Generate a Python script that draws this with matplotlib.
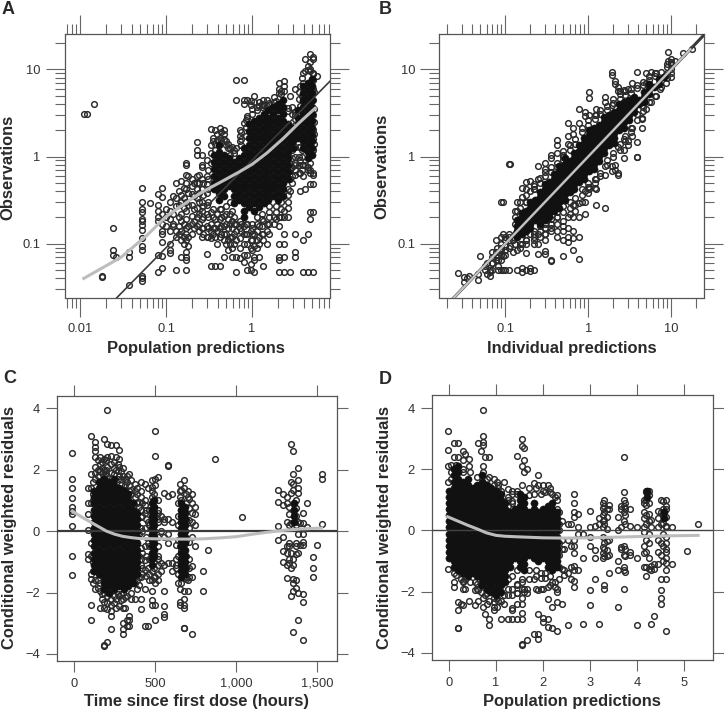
import matplotlib
matplotlib.use('Agg')
import matplotlib.pyplot as plt
from matplotlib.ticker import LogLocator, NullFormatter, FixedLocator

plt.rcParams['font.family'] = ['Liberation Sans', 'DejaVu Sans']

W, H = 724, 711
INK = '#333333'
FRAME = '#555555'

# ---- panel A: observations vs population predictions
a_ring_x = [0.011, 0.012, 0.0145, 0.018, 0.024, 0.026, 0.037, 0.053, 0.065, 0.081, 0.09, 0.11, 0.13, 0.15, 0.17, 0.2, 0.23, 0.26, 0.3, 0.33, 0.37, 0.42, 0.47, 0.52, 0.58, 0.65, 0.72, 0.8, 0.88, 0.97, 1.05, 1.2, 1.35, 1.5, 1.8, 2.05, 2.35, 2.8, 3.2, 3.6, 3.9, 4.2, 4.5, 4.8, 5.1, 5.3, 5.7]
a_ring_y = [[3.1], [3.1], [4.0], [0.043, 0.041], [0.15, 0.085, 0.075], [0.07], [0.08, 0.07, 0.034],
    [0.44, 0.3, 0.25, 0.23, 0.19, 0.18, 0.165, 0.145, 0.115, 0.095, 0.085, 0.043, 0.04, 0.037], [0.29], [0.28, 0.24, 0.2, 0.18, 0.37, 0.075, 0.047],
    [0.43, 0.34, 0.22, 0.17, 0.14, 0.13, 0.105, 0.072, 0.053], [0.3, 0.24, 0.19, 0.14, 0.1, 0.085, 0.078], [0.5, 0.33, 0.27, 0.14, 0.12, 0.05], [0.52, 0.36, 0.3, 0.22, 0.18, 0.14, 0.11, 0.07],
    [0.85, 0.8, 0.62, 0.5, 0.42, 0.3, 0.24, 0.19, 0.15, 0.13, 0.11, 0.08, 0.07, 0.065, 0.05], [0.55, 0.46, 0.37, 0.28, 0.21, 0.17, 0.13], [1.45, 1.2, 1.05, 0.6, 0.5, 0.42, 0.33, 0.26, 0.2, 0.16],
    [1.05, 0.8, 0.75, 0.55, 0.42, 0.3, 0.24, 0.19, 0.15, 0.12], [0.9, 0.6, 0.48, 0.38, 0.28, 0.22, 0.16, 0.12, 0.076], [2.05, 1.35, 1.1, 0.85, 0.23, 0.17, 0.14, 0.115, 0.055], [2.0, 1.4, 1.2, 0.19, 0.15, 0.12, 0.055],
    [2.1, 1.65, 0.25, 0.19, 0.15, 0.12, 0.055], [2.0, 1.8, 1.6, 0.21, 0.16, 0.13, 0.11, 0.07], [1.4, 1.25, 0.19, 0.15, 0.11, 0.085], [1.3, 0.24, 0.18, 0.15, 0.12, 0.09, 0.07],
    [7.6, 4.4, 1.25, 0.17, 0.14, 0.11, 0.07, 0.047], [2.0, 1.7, 1.5, 0.18, 0.15, 0.115, 0.09, 0.068], [7.6, 4.5, 4.0, 2.4, 0.16, 0.13, 0.1, 0.075, 0.062], [4.4, 2.9, 2.8, 0.17, 0.13, 0.1, 0.075, 0.05],
    [4.3, 3.9, 0.14, 0.11, 0.09, 0.058, 0.05], [4.9, 4.2, 0.13, 0.095, 0.07, 0.065, 0.047], [4.2, 3.8, 0.16, 0.12, 0.1, 0.07], [4.5, 3.9, 0.18, 0.13, 0.11, 0.055], [4.4, 3.8, 0.17, 0.14, 0.1], [4.8, 4.2, 0.2, 0.17],
    [7.0, 6.0, 5.3, 0.2, 0.16, 0.1, 0.07, 0.065, 0.047], [7.3, 6.5, 5.6, 0.24, 0.2, 0.13, 0.1, 0.07, 0.047], [5.0, 0.82, 0.7, 0.55, 0.4, 0.047], [6.0, 3.2, 2.7, 0.85, 0.62, 0.13, 0.08, 0.07], [6.5, 3.8, 1.3, 0.9, 0.65, 0.4],
    [9.0, 7.0, 0.8, 0.6, 0.11, 0.047], [13, 9.5, 0.8, 0.42], [11, 9.8, 0.75, 0.7, 0.13, 0.047], [15, 10, 0.65, 0.23, 0.19], [14, 13, 9, 0.64, 0.62, 0.48, 0.23, 0.047], [5.5, 3.5, 2.5, 1.8, 1.4], [8.3]]
a_more_x = [0.1, 0.12, 0.14, 0.16, 0.18, 0.21, 0.24, 0.27, 0.31, 0.35, 0.39, 0.44, 0.5, 0.56, 0.62, 0.75, 0.85, 1.0, 1.15, 1.3, 1.6, 1.9, 2.2, 2.6, 2.9, 3.2, 3.5, 3.8, 4.7, 5.2]
a_more_y = [[0.16, 0.2, 0.25], [0.22, 0.17, 0.35, 0.16], [0.4, 0.28, 0.2, 0.16, 0.13], [0.33, 0.26, 0.17, 0.12, 0.1, 0.43], [0.6, 0.38, 0.28, 0.16, 0.095, 0.12], [0.5, 0.35, 0.25, 0.18, 0.15], [0.62, 0.5, 0.38, 0.3, 0.22, 0.17, 0.14],
    [0.5, 0.36, 0.27, 0.2, 0.15, 0.13], [0.7, 0.55, 0.42, 0.3, 0.2, 0.15, 0.12], [1.5, 1.65, 0.25, 0.2, 0.15, 0.13], [1.8, 1.55, 0.22, 0.17, 0.14, 0.1], [1.9, 1.55, 0.25, 0.2, 0.16, 0.13], [1.5, 1.35, 0.27, 0.22, 0.17, 0.13, 0.1],
    [1.25, 1.05, 0.3, 0.22, 0.17, 0.12, 0.1], [1.2, 1.1, 0.2, 0.17, 0.13, 0.1], [1.9, 1.6, 1.35, 0.17, 0.14], [2.2, 2.6, 1.7, 0.17, 0.13], [3.1, 3.5, 0.17, 0.15, 0.13, 0.11, 0.085], [3.7, 3.4, 0.2, 0.17, 0.14, 0.11, 0.09], [4.0, 3.7, 0.22, 0.19, 0.16, 0.13],
    [4.1, 3.9, 0.27, 0.23, 0.2, 0.17, 0.13], [4.3, 0.27, 0.23, 0.19], [5.7, 5.2, 0.3, 0.25, 0.2], [3.6, 3.3, 0.42, 0.36, 0.3, 0.26, 0.2], [3.7, 3.1, 1.5, 1.2, 0.95, 0.75, 0.6, 0.5], [3.0, 2.3, 1.7, 1.3, 1.0, 0.8, 0.7], [4.6, 5.5, 1.3, 1.0, 0.8, 0.65], [8, 5, 1.2, 1, 0.8, 0.7], [12, 9.5, 0.85, 0.7, 0.48], [8.8, 7.5, 6, 4.5, 3, 2, 1.6, 1.2]]

# black part of the cloud: columns with lowest and highest level, on two staggered sets of levels
a_levels_1 = [0.2, 0.24, 0.29, 0.35, 0.42, 0.5, 0.6, 0.72, 0.86, 1.03, 1.24, 1.49, 1.78, 2.14, 2.57, 3.08, 3.7, 4.4, 5.3, 6.4, 7.7]
a_levels_2 = [0.22, 0.265, 0.32, 0.385, 0.46, 0.55, 0.66, 0.79, 0.95, 1.14, 1.37, 1.63, 1.96, 2.35, 2.8, 3.4, 4.05, 4.85, 5.8, 7.0]
a_core_x = [0.36, 0.41, 0.47, 0.54, 0.62, 0.7, 0.8, 0.92, 1.05, 1.2, 1.37, 1.56, 1.78, 2.04, 2.33, 2.66, 3.04, 3.47, 3.97, 4.5, 5.0]
a_core_lo = [0.42, 0.32, 0.35, 0.46, 0.29, 0.32, 0.2, 0.26, 0.24, 0.26, 0.29, 0.32, 0.35, 0.32, 0.35, 0.55, 1.24, 1.63, 1.24, 0.95, 1.03]
a_core_hi = [1.03, 1.37, 1.03, 0.95, 0.86, 0.95, 1.24, 2.35, 2.57, 2.8, 3.08, 3.4, 3.7, 4.05, 4.4, 2.35, 2.14, 3.4, 6.4, 7.0, 7.7]

a_smooth_x = [0.011, 0.03, 0.06, 0.1, 0.25, 0.5, 0.7, 1.0, 1.5, 2.33, 3.5, 5.45]
a_smooth_y = [0.04, 0.07, 0.125, 0.205, 0.38, 0.55, 0.66, 0.81, 1.1, 1.62, 2.4, 3.58]

# ---- panel B: observations vs individual predictions
b_ring_x = [0.027, 0.032, 0.035, 0.037, 0.047, 0.05, 0.057, 0.065, 0.07, 0.077, 0.082, 0.09, 0.095, 0.1, 0.11, 0.115, 0.125, 0.14, 0.16, 0.18, 0.2, 0.22, 0.25, 0.3, 0.36, 0.42, 0.5, 0.57, 0.66, 0.78, 0.92, 1.03, 1.25, 1.6, 1.95, 2.1, 2.3, 2.7, 3.0, 3.4, 3.9, 4.4, 5, 5.7, 6.5, 7.3, 8.7, 9.2, 10, 11, 14, 18]
b_ring_y = [[0.046], [0.042, 0.036], [0.04], [0.043], [0.045, 0.038], [0.073], [0.055, 0.05], [0.05, 0.047, 0.043], [0.05, 0.06], [0.11, 0.081, 0.065], [0.075, 0.065, 0.055, 0.05],
    [0.3, 0.12, 0.1, 0.075, 0.05], [0.3, 0.13, 0.073, 0.05], [0.12, 0.095, 0.05], [0.83, 0.13, 0.09, 0.05], [0.83, 0.095], [0.12, 0.11, 0.08], [0.3, 0.24, 0.14, 0.085, 0.05], [0.44, 0.34, 0.1, 0.052, 0.047], [0.51, 0.3, 0.11, 0.078, 0.05],
    [0.52, 0.4, 0.13, 0.052, 0.049], [0.48, 0.42, 0.12, 0.1, 0.05], [0.78, 0.55, 0.13, 0.1, 0.077], [0.84, 0.72, 0.15, 0.13, 0.11, 0.077, 0.082], [1.05, 0.95, 0.17, 0.15, 0.063, 0.065], [1.55, 1.35, 1.1, 0.2, 0.14, 0.12], [1.0, 0.9, 0.16, 0.14, 0.11, 0.073],
    [2.45, 1.7, 1.4, 0.2, 0.15, 0.12, 0.105], [2.1, 1.8, 0.28, 0.2, 0.14, 0.115, 0.085], [3.5, 2.4, 0.29, 0.2, 0.12, 0.067], [3.2, 2.9, 0.4, 0.3, 0.22], [5.5, 4.7, 3.0, 0.45, 0.42], [3.5, 3.0, 0.55, 0.42, 0.28], [4.8, 4.2, 0.78, 0.62, 0.26], [9.2, 8.6, 3.9, 0.78, 0.68], [7.3, 6.8, 0.8, 0.7],
    [6.3, 5.6, 1.3, 0.65, 0.62], [5.8, 1.6, 1.2, 0.95], [5.9, 1.5, 1.35], [7.0, 2.1, 1.7], [9.2, 6.6, 1.45, 1.0, 1.0], [2.8, 2.7, 2.15], [9, 7, 3.5], [9.2, 4.2], [9, 4.9], [6.0], [7.0, 8.6], [16, 12.5], [13, 11.5, 8.2], [12.5], [15.5], [17]]
b_more_x = [0.06, 0.07, 0.08, 0.09, 0.1, 0.11, 0.13, 0.15, 0.18, 0.22, 0.26, 0.3, 0.36, 0.42, 0.5, 0.6, 0.7, 0.85, 1.0, 1.2, 1.4, 1.7, 2.0, 2.4, 2.8, 3.3, 3.9, 4.6, 5.4, 6.3, 7.5, 9, 10]
b_more_y = [[0.06, 0.045], [0.07, 0.08, 0.06], [0.07, 0.09], [0.085, 0.09, 0.065], [0.075, 0.085, 0.11], [0.11, 0.12], [0.13, 0.17, 0.2, 0.24, 0.1], [0.1, 0.26, 0.3, 0.09], [0.1, 0.11, 0.3, 0.36, 0.42], [0.13, 0.14, 0.42, 0.46, 0.11], [0.14, 0.16, 0.5, 0.56, 0.12],
    [0.17, 0.15, 0.6, 0.66, 0.13], [0.19, 0.17, 0.66, 0.76, 0.14], [0.23, 0.2, 0.75, 0.85, 0.17], [0.27, 0.23, 1.05, 1.15, 0.18], [0.3, 0.26, 1.2, 1.35, 0.22], [0.33, 0.28, 1.4, 1.6, 0.24], [0.42, 0.36, 1.9, 2.1, 0.3], [0.5, 0.45, 2.3, 2.6, 0.38], [0.55, 0.5, 2.7, 3.0, 0.44],
    [0.65, 0.6, 3.1, 3.4], [0.9, 0.8, 3.4, 3.8], [1.1, 1.0, 4.1, 4.6], [1.4, 1.2, 4.6, 5.2, 5.7], [1.7, 1.5, 5.1, 5.6], [2.1, 1.9, 5.4, 6], [2.6, 3.1, 6.1], [3.3, 3.7, 6.6, 7.2], [4.2, 7.6, 8.3], [4.9, 8.4, 9.1], [6.2, 9.2], [8, 9, 10.5, 11.5], [10, 9, 12]]

b_levels_1 = [0.12, 0.14, 0.16, 0.185, 0.21, 0.24, 0.28, 0.32, 0.37, 0.42, 0.48, 0.55, 0.63, 0.72, 0.83, 0.95, 1.09, 1.25, 1.43, 1.64, 1.88, 2.15, 2.46, 2.82, 3.2, 3.7, 4.2, 4.8, 5.5, 6.3, 7.2, 8.2]
b_levels_2 = [0.13, 0.15, 0.17, 0.2, 0.225, 0.26, 0.3, 0.345, 0.395, 0.45, 0.515, 0.59, 0.675, 0.775, 0.89, 1.02, 1.17, 1.34, 1.53, 1.76, 2.0, 2.3, 2.64, 3.0, 3.45, 3.95, 4.5, 5.15, 5.9, 6.75, 7.7]
b_core_x = [0.14, 0.16, 0.18, 0.2, 0.23, 0.26, 0.3, 0.34, 0.39, 0.45, 0.52, 0.6, 0.68, 0.78, 0.9, 1.03, 1.18, 1.35, 1.55, 1.8, 2.05, 2.35, 2.7, 3.1, 3.55, 4.1, 4.7, 5.4, 6.2, 7.1, 8.1]
b_core_lo = [0.12, 0.13, 0.14, 0.15, 0.17, 0.17, 0.18, 0.2, 0.23, 0.26, 0.3, 0.35, 0.4, 0.46, 0.52, 0.6, 0.7, 0.85, 1.0, 1.2, 1.4, 1.8, 2.1, 2.5, 3.0, 3.6, 4.2, 4.9, 5.6, 6.5, 7.5]
b_core_hi = [0.2, 0.23, 0.26, 0.3, 0.35, 0.41, 0.5, 0.56, 0.65, 0.8, 0.95, 1.0, 1.2, 1.45, 1.8, 2.05, 2.35, 2.45, 2.9, 3.1, 3.6, 4.0, 4.5, 4.7, 4.8, 5.1, 5.9, 6.8, 7.0, 8.0, 8.2]

b_smooth_x = [0.024, 0.1, 1.0, 10.0, 17.0]
b_smooth_y = [0.024, 0.1, 1.0, 10.0, 17.0]

# ---- panel C: residuals vs time
c_ring_x = [-10, 85, 105, 130, 160, 185, 205, 230, 260, 280, 300, 325, 340, 375, 410, 435, 455, 480, 500, 520, 555, 580, 605, 630, 650, 675, 700, 725, 745, 795, 825, 870, 1035, 1255, 1285, 1310, 1335, 1350, 1380, 1410, 1435, 1470, 1500, 1525]
c_ring_y = [[2.55, 1.7, 1.4, 1.07, 0.8, 0.65, 0.55, 0.17, -0.82, -1.43], [1.4, 0.9, 0.55, 0.05, -0.75, -0.9], [3.1, 1.85, 1.4, 0.9, -0.4, -0.8, -1.4, -1.55, -2.4, -2.9], [2.9, 2.75, 2.6, 2.4, 2.1, 1.9, 1.7, -1.6, -1.9],
    [2.4, 2.2, 1.95, -1.7, -1.95, -2.5], [3.0, 2.35, 2.0, 1.8, -2.0, -2.3, -2.5, -3.75, -3.7], [3.93, 2.85, 2.4, 2.1, 1.8, -2.1, -2.35, -2.55, -3.6], [2.8, 2.45, 2.2, 1.9, -2.2, -2.4, -2.6, -2.75, -3.2], [2.8, 2.4, 2.0, -2.2, -2.5],
    [2.65, 2.35, 2.1, 1.8, -2.1, -2.45], [2.05, 1.8, -2.0, -2.2, -2.5, -3.0, -3.2, -3.35], [1.8, 1.6, -2.1, -2.9, -3.1], [1.85, 1.5, 1.3, -2.75, -2.9, -3.1], [1.55, 1.3, 1.1, -1.7, -2.2], [1.6, 1.3, 1.1, 0.7, 0.45, 0.1, -0.55, -0.9, -1.1, -1.5, -2.2, -2.55],
    [1.55, 1.0, 0.85, 0.6, 0.1, -0.5, -0.95, -1.25, -1.9, -3.1], [1.4, 0.3, -0.4, -1.2, -3.1], [1.65, 1.45, 1.3, 1.1, -1.3, -1.6, -1.95, -2.25, -2.4], [3.25, 2.45, 1.7, 1.5, -1.5, -1.7, -2.4, -2.9], [1.75, 0.6, 0.4, -0.9, -1.4], [1.25, 0.4, 0.3, -0.2, -1.1, -1.95, -2.45, -2.7, -2.8],
    [2.15, 2.12, 1.15, 0.4, -0.1, -0.4, -1.05], [1.2, 0.3, -1.05, -1.3], [-0.45, -0.9, -1.1, -1.2], [1.55, 1.3, 1.1, -0.5, -1.9, -2.3, -2.4], [1.65, 1.4, -1.95, -2.2, -2.4, -2.5, -3.15, -3.15], [1.3, 1.1, -1.6, -1.95], [1.2, 0.9, 0.6, 0.3, -0.2, -1.15, -1.5, -3.35], [0.8, 0.55, 0.2, -0.5], [-1.3, -1.95], [-0.6], [2.35], [0.47],
    [1.35, 0.95, 0.17, -0.3], [1.2, 0.85, -0.2, -0.65, -1.0], [1.1, 0.9, 0.3, -0.5, -0.7, -1.1, -1.53], [2.85, 1.6, 1.25, 0.25, -0.7, -1.2, -2.1], [2.6, 1.85, 1.55, 1.35, -0.9, -1.1, -1.55, -1.7, -1.95, -3.3], [2.05, 1.65, 1.4, 1.25, 0.3, -0.1, -0.7, -2.0, -2.9], [0.6, 0.25, -0.1, -0.35, -0.45, -2.05, -2.3, -3.55], [0.9, 0.15], [-0.85, -1.2, -1.5], [-0.45], [1.85, 1.7, 0.22]]
c_more_x = [115, 145, 175, 200, 245, 270, 290, 315, 350, 385, 400, 420, 445, 465, 490, 515, 535, 640, 660, 690, 710, 1325, 1365, 1395]
c_more_y = [[1.6, 1.2, 1.0, -1.0, -1.3, -1.7], [2.3, 2.0, 1.8, -1.6, -1.85], [2.25, 2.05, 1.9, -2.05, -2.2], [2.3, 2.0, 1.85], [2.25, 2.05, 1.85, -2.1, -2.35], [2.2, 1.95, 1.7, -2.05], [1.95, 1.7, 1.5, -2.05, -2.25], [1.7, 1.5, 1.35, -2.15, -2.5], [1.65, 1.35, 1.2, -2.0, -2.2],
    [1.4, 1.2, 0.9, -1.6, -1.9], [0.95, 0.8, -0.1, -0.8, -1.5, -1.75], [0.9, 0.5, 0.0, -0.7, -1.2, -1.4], [0.7, 0.4, -0.2, -0.8, -1.45], [0.7, 0.2, -0.5, -0.9, -1.4, -1.6], [1.2, 0.8, -1, -1.2, -1.5], [1, 0.7, 0.3, -0.2, -0.5, -0.8, -1.1, -1.6], [0.5, 0.0, -1.05, -1.3],
    [0.9, 0.5, 0.2, -0.3, -0.8, -1.4, -1.7], [1.35, 1, 0.7, 0.3, -0.1, -0.6, -1.0, -1.7], [1.2, 0.9, 0.4, -0.3, -0.8, -1.2, -1.5, -1.55], [1.05, 0.75, 0.35, 0.1, -0.35, -0.9, -1.2, -1.5], [0.8, 0.55, 0.2, -0.4, -0.5, -0.9, -1.05], [1, 0.75, 0.5, 0.2, -0.4, -0.5, -0.75, -1.6, -1.85], [0.25, -0.45]]

res_levels_1 = [-2.1, -1.9, -1.7, -1.5, -1.3, -1.1, -0.9, -0.7, -0.5, -0.3, -0.1, 0.1, 0.3, 0.5, 0.7, 0.9, 1.1, 1.3, 1.5, 1.7, 1.9, 2.1]
res_levels_2 = [-2.0, -1.8, -1.6, -1.4, -1.2, -1.0, -0.8, -0.6, -0.4, -0.2, 0.0, 0.2, 0.4, 0.6, 0.8, 1.0, 1.2, 1.4, 1.6, 1.8, 2.0, 2.2]
c_core_x = [125, 155, 185, 215, 245, 275, 305, 335, 365, 390, 480, 495, 660, 685, 1355]
c_core_lo = [-1.3, -1.5, -1.9, -2.0, -2.0, -1.9, -2.0, -1.9, -1.7, -1.4, -1.1, -0.9, -1.6, -1.4, 0.2]
c_core_hi = [1.3, 1.6, 1.7, 1.7, 1.7, 1.5, 1.3, 1.2, 1.0, 0.6, 1.0, 1.0, 0.9, 0.9, 0.9]

c_smooth_x = [-10, 50, 100, 150, 200, 250, 300, 350, 400, 500, 600, 700, 800, 900, 1000, 1100, 1200, 1300, 1400, 1525]
c_smooth_y = [0.65, 0.45, 0.3, 0.15, 0.0, -0.1, -0.17, -0.21, -0.24, -0.25, -0.26, -0.26, -0.25, -0.22, -0.18, -0.1, -0.03, 0.03, 0.07, 0.1]

# ---- panel D: residuals vs population predictions
d_ring_x = [-0.03, 0.1, 0.2, 0.25, 0.3, 0.35, 0.42, 0.55, 0.62, 0.68, 0.73, 0.77, 0.85, 0.95, 1.03, 1.1, 1.18, 1.25, 1.35, 1.45, 1.55, 1.6, 1.67, 1.8, 1.9, 2.0, 2.1, 2.2, 2.3, 2.4, 2.53, 2.6, 2.65, 2.75, 2.85, 3.0, 3.1, 3.2, 3.3, 3.4, 3.6, 3.73, 3.85, 4.0, 4.2, 4.3, 4.37, 4.5, 4.62, 4.75, 5.07, 5.3]
d_ring_y = [[3.25, 2.65, 2.1, 1.6, -1.25], [2.85, 2.4, -1.4, -1.7, -1.85], [2.85, 2.4, -2.35, -2.6, -3.2, -3.18], [-2.4, -1.6, -1.4], [2.6, -2.45, -1.7], [2.5, -1.9, -1.6], [2.35, 2.1, -2.3], [-2.45, -1.95, -1.7], [2.85, -2.3, -1.95], [2.6, -1.8, -2.0],
    [3.93, 3.1, 2.9, 2.8, 2.1, 1.9, -2.2, -2.5], [2.4, -2.1, -2.75], [2.4, 1.75, -2.3, -2.9, -3.1], [1.7, -2.5, -2.6], [1.6, -2.2, -2.5], [1.3, -2.3, -2.9], [1.6, -2.1, -2.4], [1.35, 1.1, -2.1, -2.9], [1.3, 0.95, -2.55, -2.9, -2.6], [2.45, 1.3, -1.75, -2.05, -2.4, -2.9],
    [3.0, 2.75, 2.1, -1.7, -2.4, -2.7, -2.9, -3.75, -3.7], [2.7, 2.3, 1.9, -1.9, -2.0], [2.0, -1.9, -2.05, -3.6], [1.55, 1.2, -1.6, -3.4], [1.8, 1.5, -1.95, -2.75, -3.4, -3.55], [1.5, 1.3, -1.9, -2.85, -3.0], [1.5, -1.85, -2.25, -2.9, -3.15], [1.2, -1.7, -2.5, -3.2], [1.15, -1.9, -2.0, -2.35, -3.3], [0.3, -0.3, -0.6, -1.25, -2.4], [-3.1, -1.4, -0.3, 0.2],
    [0.2, -0.5, -1.2, -1.6], [1.2, 0.9, 0.6, 0.45, -0.3, -0.5, -0.75, -1.15, -1.3, -1.65, -1.85], [0.55, 0.1, -0.1, -1.3], [-0.1, -0.9, -3.07], [0.65, 0.1, -0.2, -0.5, -1.95, -2.45], [0.15, -0.65, -0.9, -1.6], [0.2, 0.4, -3.07], [1.0, 0.8, 0.6, 0.35, 0.2, -0.4, -0.6, -0.85, -1.8, -1.9], [0.85, 0.7, -0.3, -0.8, -1.4], [0.45, 0.0, -1.0, -1.3, -2.5],
    [2.4, 1.25, 1.0, 0.8, 0.6, 0.3, -0.5, -0.8, -1.2, -1.3, -1.9], [0.7, 0.15, -0.8, -0.7], [0.1, -0.9, -3.1], [1.3, 1.25, 1.0, 0.85, 0.5, 0.2, -0.3, -0.7, -1.2, -1.5], [0.35, 0.1, -1.15, -1.3, -3.07], [-1.25, -1.1, -2.8], [1.0, 0.6, 0.2, -0.4, -0.8, -1.6, -1.95, -2.2, -2.4], [1.0, 0.7, 0.1, -0.2, -0.6, -0.9, -1.3, -1.6, -3.3], [0.1, -1.1], [-0.68], [0.22]]
d_more_x = [0.05, 0.15, 0.3, 0.45, 0.6, 0.8, 0.95, 1.05, 1.25, 1.35, 1.45, 1.55, 1.7, 1.85, 1.95, 2.05, 2.15, 2.25, 2.3, 2.35, 2.45, 3.28, 3.36, 3.65, 3.75, 4.15, 4.25, 4.45, 4.55, 4.62]
d_more_y = [[1.7, 1.9, 2.15], [2.15, -1.45], [2.3, 2.0, 1.9, -1.65, -1.9], [1.9, -1.7], [1.75, -1.75, -1.9], [1.7, -1.95, -2.05, -2.4], [1.5, -2.2, -2.35], [1.5, 1.4, -2.3], [1.0, 0.8, -1.9, -1.6], [1.2, 0.9, -1.5, -1.9, -2.1], [1.2, -1.3, -1.8, -2.05], [1.5, -1.6, -1.9, -2.2], [1.4, 1.15, -1.3, -1.6],
    [1.4, -1.3, -1.5, -1.9], [1.2, -1.4, -1.55, -1.9], [1.25, -1.4, -1.55], [1.4, 1.25, -1.5, -1.8], [1.1, -1.7, -1.85], [1.0, 0.7], [0.6, 0.2, 0.0, -0.4, -0.8, -1.2, -1.6], [-0.6, -1.3, -1.45], [0.9, 0.75, 0.5, 0.3, 0.1, -0.2, -0.55, -0.75, -0.9], [0.7, 0.45, 0.05, -0.35, -0.65, -0.85],
    [0.8, 0.7, 0.1, -0.55, -0.6], [0.9, 0.75, 0.5, 0.2, -0.6, -0.85, -1.35], [1.0, 0.9, 0.6, 0.4, 0.1, -0.05, -0.5, -0.75, -1.2], [1.3, 1.15, 0.9, 0.55, 0.3, -0.1, -0.4, -0.9, -1.25], [0.65, 0.4, 0.1, -0.3, -0.7, -1.1], [0.95, 0.7, 0.5, 0.25, -0.1, -0.5, -1], [0.8, 0.45, 0.15, -0.4, -0.7, -1.05]]

d_core_x = [0.0, 0.1, 0.2, 0.3, 0.4, 0.5, 0.6, 0.7, 0.8, 0.9, 1.0, 1.1, 1.2, 1.3, 1.4, 1.5, 1.6, 1.7, 1.8, 1.9, 2.0, 2.1, 2.2, 2.3, 4.22, 4.58]
d_core_lo = [-1.0, -1.3, -1.3, -1.5, -1.5, -1.5, -1.6, -1.9, -1.9, -2.0, -2.1, -2.0, -1.8, -1.2, -0.9, -1.2, -1.3, -0.8, -0.9, -1.0, -0.9, -1.2, -1.4, -1.3, 1.0, 0.3]
d_core_hi = [1.3, 2.0, 2.2, 1.7, 1.7, 1.4, 1.6, 1.8, 1.5, 1.4, 1.3, 1.2, 0.9, 0.6, 0.8, 1.2, 1.1, 0.7, 0.9, 0.7, 0.8, 0.9, 1.0, 0.6, 1.3, 0.7]

d_smooth_x = [-0.03, 0.2, 0.4, 0.6, 0.8, 1.0, 1.2, 1.5, 2.0, 2.5, 3.0, 3.5, 4.0, 4.5, 5.3]
d_smooth_y = [0.45, 0.3, 0.17, 0.05, -0.08, -0.16, -0.19, -0.21, -0.24, -0.25, -0.24, -0.22, -0.2, -0.18, -0.16]


# make axes from pixel box (left, top, right, bottom)
def make_axes(fig, box):
    l, t, r, b = box
    ax = fig.add_axes([l / W, 1 - b / H, (r - l) / W, (b - t) / H])
    for s in ax.spines.values():
        s.set_color(FRAME)
        s.set_linewidth(0.9)
    ax.tick_params(which='both', top=True, right=True, direction='out', color='#666666', width=0.8, labelcolor=INK, labelsize=9.3)
    return ax


# flatten column lists into x, y
def flatten(col_x, col_y):
    xs, ys = [], []
    for x, col in zip(col_x, col_y):
        xs += [x] * len(col)
        ys += col
    return xs, ys


# columns of the black core, taking every other column from the second level set
def core_points(col_x, lo, hi, levels_1, levels_2):
    xs, ys = [], []
    for i, x in enumerate(col_x):
        levels = levels_1 if i % 2 == 0 else levels_2
        col = [v for v in levels if lo[i] <= v <= hi[i]]
        xs += [x] * len(col)
        ys += col
    return xs, ys


def draw_points(ax, ring_x, ring_y, more_x, more_y, core):
    xs, ys = flatten(ring_x + more_x, ring_y + more_y)
    ax.plot(xs, ys, 'o', ms=4.1, mfc='none', mec='#2a2a2a', mew=1.05, zorder=2)
    ax.plot(core[0], core[1], 'o', ms=5.2, mfc='#111111', mec='#111111', mew=0.3, zorder=3)


def log_ticks(ax, major_x, major_y, xfmt, yfmt):
    for axis, major, fmt in ((ax.xaxis, major_x, xfmt), (ax.yaxis, major_y, yfmt)):
        axis.set_major_locator(FixedLocator(major))
        axis.set_major_formatter(plt.FixedFormatter(fmt))
        axis.set_minor_locator(LogLocator(base=10, subs=range(2, 10), numticks=20))
        axis.set_minor_formatter(NullFormatter())
    ax.tick_params(which='major', length=13.7)
    ax.tick_params(which='minor', length=7.2)
    ax.tick_params(axis='x', which='major', pad=4.7)
    ax.tick_params(axis='y', which='major', pad=3.6)


def lin_ticks(ax, major_x, major_y, xfmt, yfmt):
    ax.set_xticks(major_x, xfmt)
    ax.set_yticks(major_y, yfmt)
    ax.tick_params(which='major', length=7.9)
    ax.tick_params(axis='x', which='major', pad=4.3)
    ax.tick_params(axis='y', which='major', pad=4.1)


def main():
    fig = plt.figure(figsize=(W / 100, H / 100), dpi=100, facecolor='white')

    # A
    ax = make_axes(fig, (64.5, 34, 329.5, 297.5))
    ax.set_xscale('log')
    ax.set_yscale('log')
    draw_points(ax, a_ring_x, a_ring_y, a_more_x, a_more_y, core_points(a_core_x, a_core_lo, a_core_hi, a_levels_1, a_levels_2))
    ax.plot([0.001, 100], [0.0009, 90], color='#3a3a3a', lw=1.2, zorder=4)
    ax.plot(a_smooth_x, a_smooth_y, color='#bdbdbd', lw=2.2, zorder=5)
    ax.set_xlim(10 ** -2.183, 10 ** 0.904)
    ax.set_ylim(10 ** -1.617, 10 ** 1.405)
    log_ticks(ax, [0.01, 0.1, 1], [0.1, 1, 10], ['0.01', '0.1', '1'], ['0.1', '1', '10'])

    # B
    ax = make_axes(fig, (439.3, 34, 704.3, 297.5))
    ax.set_xscale('log')
    ax.set_yscale('log')
    draw_points(ax, b_ring_x, b_ring_y, b_more_x, b_more_y, core_points(b_core_x, b_core_lo, b_core_hi, b_levels_1, b_levels_2))
    ax.plot([0.001, 100], [0.001, 100], color='#3a3a3a', lw=2.2, zorder=4)
    ax.plot(b_smooth_x, b_smooth_y, color='#c4c4c4', lw=1.6, zorder=5)
    ax.set_xlim(10 ** -1.795, 10 ** 1.398)
    ax.set_ylim(10 ** -1.617, 10 ** 1.405)
    log_ticks(ax, [0.1, 1, 10], [0.1, 1, 10], ['0.1', '1', '10'], ['0.1', '1', '10'])

    # C
    ax = make_axes(fig, (56.7, 395.7, 337.3, 660.7))
    draw_points(ax, c_ring_x, c_ring_y, c_more_x, c_more_y, core_points(c_core_x, c_core_lo, c_core_hi, res_levels_1, res_levels_2))
    ax.axhline(0, color='#3a3a3a', lw=1.6, zorder=4)
    ax.plot(c_smooth_x, c_smooth_y, color='#bdbdbd', lw=2.2, zorder=5)
    ax.set_xlim(-106.6, 1622)
    ax.set_ylim(-4.22, 4.41)
    lin_ticks(ax, [0, 500, 1000, 1500], [-4, -2, 0, 2, 4], ['0', '500', '1,000', '1,500'], ['\u22124', '\u22122', '0', '2', '4'])

    # D
    ax = make_axes(fig, (431.7, 395, 712.7, 660))
    draw_points(ax, d_ring_x, d_ring_y, d_more_x, d_more_y, core_points(d_core_x, d_core_lo, d_core_hi, res_levels_1, res_levels_2))
    ax.axhline(0, color='#444444', lw=1.0, zorder=4)
    ax.plot(d_smooth_x, d_smooth_y, color='#bdbdbd', lw=2.2, zorder=5)
    ax.set_xlim(-0.368, 5.61)
    ax.set_ylim(-4.24, 4.435)
    lin_ticks(ax, [0, 1, 2, 3, 4, 5], [-4, -2, 0, 2, 4], ['0', '1', '2', '3', '4', '5'], ['\u22124', '\u22122', '0', '2', '4'])

    # axis titles and panel letters in pixel positions
    def put(x, y, s, size, **kw):
        fig.text(x / W, 1 - y / H, s, fontsize=size, fontweight='bold', color='#2a2a2a', **kw)

    for x, y, s in ((196, 348, 'Population predictions'), (571.5, 348, 'Individual predictions'),
                    (196.7, 701.7, 'Time since first dose (hours)'), (571.7, 701.7, 'Population predictions')):
        put(x, y, s, 11.9, ha='center', va='center')
    for x, y, s in ((7.5, 167, 'Observations'), (382, 166, 'Observations'),
                    (10, 527.5, 'Conditional weighted residuals'), (384.7, 527.5, 'Conditional weighted residuals')):
        put(x, y, s, 11.9, ha='center', va='center', rotation=90)
    for x, y, s in ((1.5, 14, 'A'), (378.7, 14, 'B'), (3, 383, 'C'), (378.7, 384, 'D')):
        put(x, y, s, 13, ha='left', va='baseline')

    fig.savefig('out.png', dpi=100)


if __name__ == "__main__":
    main()
